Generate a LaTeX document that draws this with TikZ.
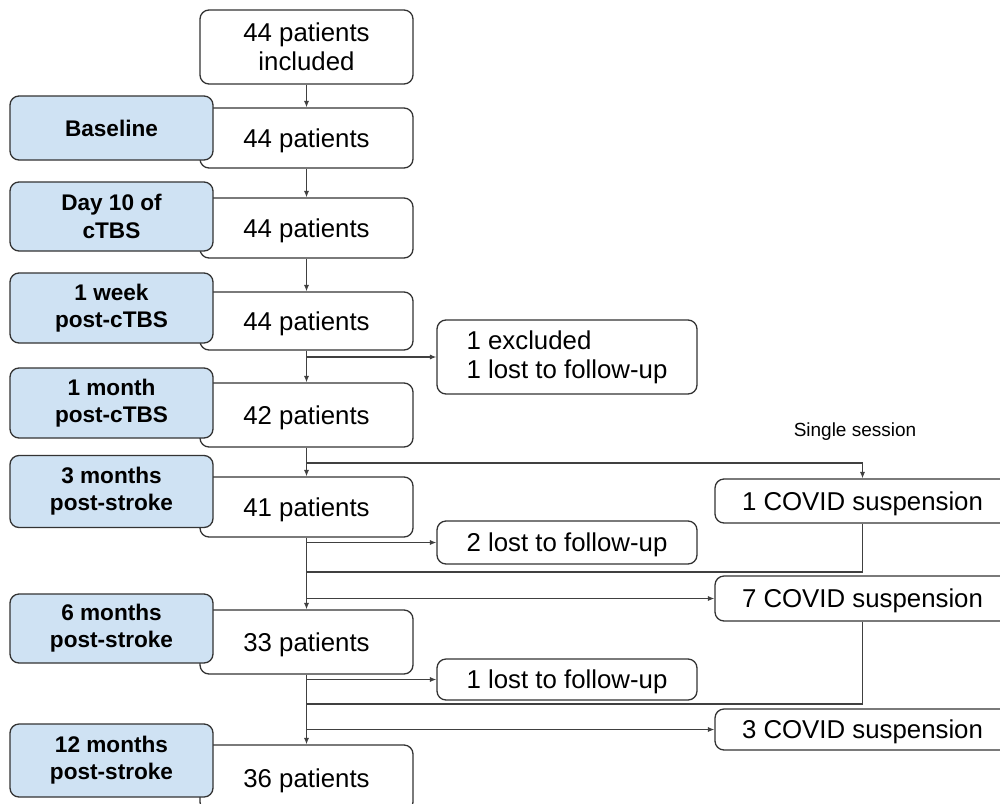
\documentclass[tikz,border=0pt]{standalone}
\usepackage{fontspec}
\setmainfont{Liberation Sans}
\usetikzlibrary{arrows.meta}
\definecolor{stagefill}{HTML}{CFE2F3}
\definecolor{edge}{HTML}{333333}
\definecolor{wire}{HTML}{404040}
\begin{document}
\begin{tikzpicture}[x=0.5pt,y=-0.5pt,
  box/.style={draw=edge,line width=0.65pt,rounded corners=4.5pt,fill=white,
    inner sep=0pt,align=center,font=\fontsize{12.9}{14.5}\selectfont},
  countbox/.style={box,minimum width=106.5pt},
  oneline/.style={text depth=0pt},
  stagebox/.style={box,fill=stagefill,minimum width=101.5pt,
    font=\fontsize{11.3}{13.6}\selectfont\bfseries},
  sidebox/.style={box,minimum width=130pt},
  covidbox/.style={box,minimum width=147.5pt,oneline},
  arr/.style={draw=wire,line width=0.6pt,-{Latex[length=3.2pt,width=2.6pt]}},
  wireline/.style={draw=wire,line width=0.6pt}]
\useasboundingbox (0,0) rectangle (1000,803);
\clip (0,0) rectangle (1000,803);

% patient counts along the main column
\node[countbox,minimum height=37pt] (top) at (306.5,47) {44 patients\\included};
\node[countbox,oneline,minimum height=30pt] (b1) at (306.5,138) {44 patients};
\node[countbox,oneline,minimum height=30pt] (b2) at (306.5,228) {44 patients};
\node[countbox,oneline,minimum height=29pt] (b3) at (306.5,321) {44 patients};
\node[countbox,oneline,minimum height=32pt] (b4) at (306.5,415) {42 patients};
\node[countbox,oneline,minimum height=30pt] (b5) at (306.5,507) {41 patients};
\node[countbox,oneline,minimum height=32pt] (b6) at (306.5,642) {33 patients};
\node[countbox,oneline,minimum height=33pt] (b7) at (306.5,778) {36 patients};

% assessment time points, overlapping the count boxes
\node[stagebox,oneline,minimum height=32pt] (t1) at (111.5,128) {Baseline};
\node[stagebox,minimum height=34.5pt] (t2) at (111.5,216.5) {Day 10 of\\cTBS};
\node[stagebox,minimum height=35pt] (t3) at (111.5,308) {1 week\\post-cTBS};
\node[stagebox,minimum height=35pt] (t4) at (111.5,403) {1 month\\post-cTBS};
\node[stagebox,minimum height=36pt] (t5) at (111.5,491.5) {3 months\\post-stroke};
\node[stagebox,minimum height=34.5pt] (t6) at (111.5,628.5) {6 months\\post-stroke};
\node[stagebox,minimum height=36.5pt] (t7) at (111.5,760.5) {12 months\\post-stroke};

% drop-outs
\node[sidebox,align=left,minimum height=37pt] (ex) at (567,357) {1 excluded\\1 lost to follow-up};
\node[sidebox,oneline,minimum height=21.5pt] (lost2) at (567,542.5) {2 lost to follow-up};
\node[sidebox,oneline,minimum height=20.5pt] (lost1) at (567,679.5) {1 lost to follow-up};

% COVID suspensions
\node[covidbox,minimum height=22pt] (c1) at (862.5,501) {1 COVID suspension};
\node[covidbox,minimum height=22.5pt] (c7) at (862.5,598.5) {7 COVID suspension};
\node[covidbox,minimum height=20.5pt] (c3) at (862.5,729.5) {3 COVID suspension};
\node[font=\fontsize{9.5}{11}\selectfont] (single) at (855,432) {Single session};

% main flow
\draw[arr] (top.south) -- (b1.north);
\draw[arr] (b1.south) -- (b2.north);
\draw[arr] (b2.south) -- (b3.north);
\draw[arr] (b3.south) -- (b4.north);
\draw[arr] (b4.south) -- (b5.north);
\draw[arr] (b5.south) -- (b6.north);
\draw[arr] (b6.south) -- (b7.north);

% branches to the side boxes
\draw[arr] (b3.south |- ex.west) -- (ex.west);
\coordinate (s1) at (306.5,463);
\draw[arr] (s1) -| (c1.north);
\draw[arr] (b5.south |- lost2.west) -- (lost2.west);
\coordinate (m1) at (306.5,572);
\draw[wireline] (c1.south) |- (m1);
\draw[arr] (b5.south |- c7.west) -- (c7.west);
\draw[arr] (b6.south |- lost1.west) -- (lost1.west);
\coordinate (m2) at (306.5,704);
\draw[wireline] (c7.south) |- (m2);
\draw[arr] (b6.south |- c3.west) -- (c3.west);
\end{tikzpicture}
\end{document}
